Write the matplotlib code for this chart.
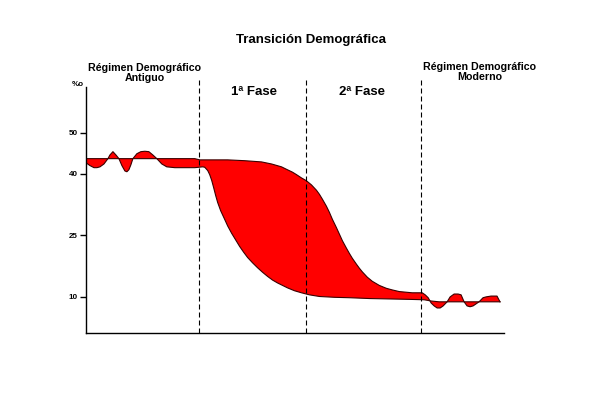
import matplotlib

matplotlib.use("Agg")
import matplotlib.pyplot as plt

# ---- data (x: arbitrary time units, y: tasa en ‰) ----
T_NAT = [0, 14, 34, 54, 74, 94, 109, 114, 142, 159, 176, 186, 196, 201, 207, 211, 216, 221,
         226, 231, 234, 237, 241, 244, 247, 251, 254, 257, 261, 264, 267, 271, 274, 277,
         282, 287, 294, 301, 307, 314, 327, 337, 340, 343, 346, 349, 352, 355, 358, 362,
         365, 369, 373, 376, 379, 382, 385, 388, 391, 394, 398, 401, 406, 412, 415]
NATALIDAD = [43.7, 43.7, 43.7, 43.7, 43.7, 43.7, 43.7, 43.4, 43.4, 43.2, 42.9, 42.4, 41.7,
             41.1, 40.4, 39.8, 39.0, 38.3, 37.3, 36.0, 35.0, 33.8, 32.1, 30.6, 28.9, 26.9,
             25.3, 23.7, 21.9, 20.6, 19.4, 18.0, 17.0, 16.1, 14.8, 13.8, 12.8, 12.1, 11.7,
             11.3, 11.0, 11.0, 10.5, 9.8, 8.5, 7.8, 7.3, 7.3, 7.8, 8.8, 10.0, 10.7, 10.7,
             10.5, 8.8, 7.8, 7.6, 7.8, 8.3, 8.8, 9.8, 10.0, 10.2, 10.2, 8.8]

T_MORT = [0, 4, 8, 11, 14, 18, 22, 24, 27, 30, 33, 36, 39, 41, 43, 45, 47, 51, 55, 59,
          63, 67, 71, 76, 81, 89, 99, 109, 117, 119, 122, 124, 126, 128, 130, 132, 135, 139,
          142, 146, 150, 154, 158, 162, 167, 172, 177, 182, 187, 192, 197, 202, 209, 216,
          224, 234, 249, 264, 284, 304, 324, 339, 346, 354, 384, 415]
MORTALIDAD = [42.7, 42.0, 41.5, 41.5, 41.7, 42.4, 43.7, 44.6, 45.4, 44.6, 43.7, 42.0, 40.7,
              40.5, 41.0, 42.2, 43.7, 44.9, 45.4, 45.5, 45.4, 44.6, 43.7, 42.4, 41.7, 41.5,
              41.5, 41.5, 41.7, 41.6, 40.8, 39.8, 38.4, 36.6, 34.7, 33.0, 31.0, 28.9, 27.3,
              25.5, 23.9, 22.3, 20.9, 19.6, 18.3, 17.1, 16.0, 15.0, 14.1, 13.4, 12.8, 12.2,
              11.5, 11.0, 10.5, 10.1, 9.9, 9.8, 9.6, 9.5, 9.4, 9.3, 9.0, 8.8, 8.8, 8.8]

LIMITES_FASE = [113, 221, 336]
Y_TICKS = [10, 25, 40, 50]

W, H = 612, 393
FONT = "Liberation Sans"


def fx(px):
    return px / W


def fy(py):
    return 1 - py / H


fig = plt.figure(figsize=(W / 100, H / 100), dpi=100)
ax = fig.add_axes([fx(86), fy(333), (504 - 86) / W, (333 - 77) / H])

ax.fill(T_NAT + T_MORT[::-1], NATALIDAD + MORTALIDAD[::-1], color="#ff0000", lw=0)
ax.plot(T_NAT, NATALIDAD, color="#3a0000", lw=0.8)
ax.plot(T_MORT, MORTALIDAD, color="#3a0000", lw=0.8)

for x in LIMITES_FASE:
    ax.axvline(x, color="black", lw=0.8, ls=(0, (4.5, 2.7)))

ax.set_xlim(0, 419)
ax.set_ylim(1.2, 63.6)
ax.spines["top"].set_visible(False)
ax.spines["right"].set_visible(False)
ax.spines["left"].set_bounds(1.2, 61.2)
ax.spines["left"].set_linewidth(1.0)
ax.spines["bottom"].set_linewidth(1.0)
ax.set_xticks([])
ax.set_yticks(Y_TICKS)
ax.set_yticklabels([str(v) for v in Y_TICKS], fontsize=5.8, fontweight="bold", family=FONT)
ax.tick_params(axis="y", length=4, width=1, pad=2)

fig.text(fx(78), fy(85), "%o", ha="center", va="center", fontsize=5.8,
         fontweight="bold", family=FONT)
fig.text(fx(311), fy(40), "Transición Demográfica", ha="center", va="center",
         fontsize=9.5, fontweight="bold", family=FONT)
fig.text(fx(145), fy(73), "Régimen Demográfico\nAntiguo", ha="center", va="center",
         fontsize=7.7, fontweight="bold", family=FONT, linespacing=0.9)
fig.text(fx(480), fy(72), "Régimen Demográfico\nModerno", ha="center", va="center",
         fontsize=7.7, fontweight="bold", family=FONT, linespacing=0.9)
fig.text(fx(254), fy(92), "1ª Fase", ha="center", va="center",
         fontsize=9.5, fontweight="bold", family=FONT)
fig.text(fx(362), fy(92), "2ª Fase", ha="center", va="center",
         fontsize=9.5, fontweight="bold", family=FONT)

fig.savefig("out.png", dpi=100)
